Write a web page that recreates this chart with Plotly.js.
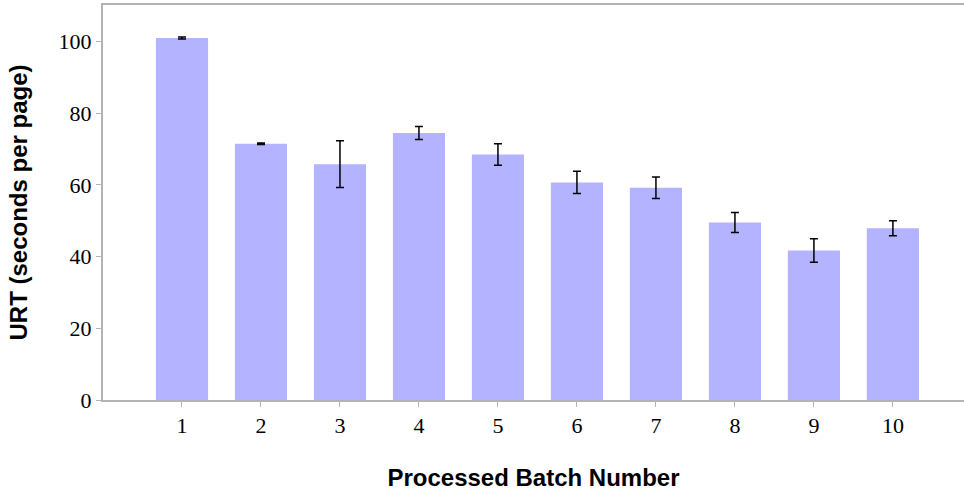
<!DOCTYPE html>
<html>
<head>
<meta charset="utf-8">
<script src="https://cdn.plot.ly/plotly-3.0.1.min.js"></script>
<style>html,body{margin:0;padding:0;background:#fff;}#chart{width:964px;height:493px;}</style>
</head>
<body>
<div id="chart"></div>
<script>
const batches = [1, 2, 3, 4, 5, 6, 7, 8, 9, 10];
const urt = [101.0, 71.5, 65.8, 74.5, 68.5, 60.7, 59.2, 49.5, 41.7, 47.9];
const urtErr = [0.3, 0.2, 6.5, 1.8, 3.0, 3.1, 3.0, 2.8, 3.3, 2.1];
const xTicks = ['1', '2', '3', '4', '5', '6', '7', '8', '9', '10'];

const trace = {
  type: 'bar',
  x: batches,
  y: urt,
  marker: {color: '#b3b3ff', line: {width: 0}},
  error_y: {type: 'data', array: urtErr, visible: true, color: '#000000', thickness: 1.5, width: 4}
};

const layout = {
  width: 964, height: 493,
  margin: {l: 103, r: 0, t: 5, b: 93},
  paper_bgcolor: '#ffffff', plot_bgcolor: '#ffffff',
  bargap: 0.34,
  showlegend: false,
  xaxis: {
    range: [0, 10.9],
    tickmode: 'array', tickvals: batches, ticktext: xTicks,
    showgrid: false, zeroline: false,
    showline: true, linecolor: '#b3b3b3', linewidth: 2, mirror: true,
    ticks: 'outside', ticklen: 5, tickcolor: '#b3b3b3', tickwidth: 1,
    tickfont: {family: 'Liberation Serif, DejaVu Serif, serif', size: 22, color: '#000'},
    title: {text: 'Processed Batch Number', standoff: 32,
      font: {family: 'Liberation Sans, Arial, sans-serif', size: 24, color: '#000', weight: 'bold'}}
  },
  yaxis: {
    range: [0, 110.2],
    tickvals: [0, 20, 40, 60, 80, 100],
    showgrid: false, zeroline: false,
    showline: true, linecolor: '#b3b3b3', linewidth: 2,
    ticks: 'outside', ticklen: 5, tickcolor: '#b3b3b3', tickwidth: 1,
    tickfont: {family: 'Liberation Serif, DejaVu Serif, serif', size: 22, color: '#000'},
    title: {text: 'URT (seconds per page)', standoff: 24,
      font: {family: 'Liberation Sans, Arial, sans-serif', size: 24, color: '#000', weight: 'bold'}}
  }
};

Plotly.newPlot('chart', [trace], layout, {displayModeBar: false, staticPlot: true});
</script>
</body>
</html>
